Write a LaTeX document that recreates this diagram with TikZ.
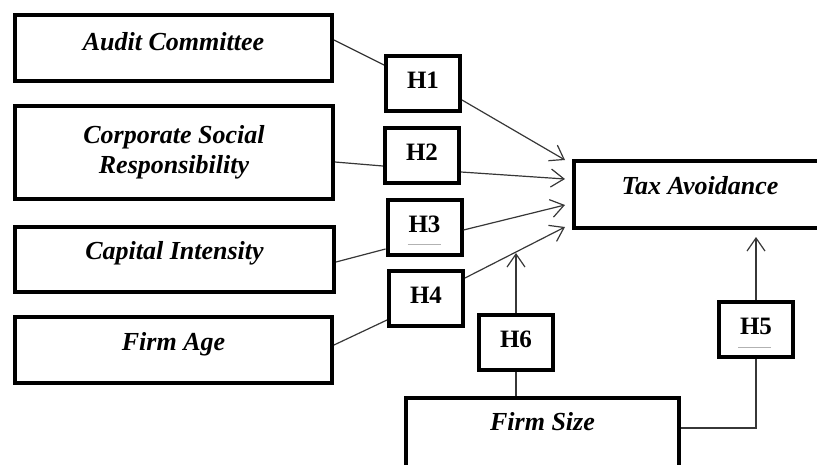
\documentclass[tikz,border=0pt]{standalone}
\usepackage{fontspec}
\setmainfont{Liberation Serif}
\usepackage{tikz}
\usetikzlibrary{positioning,arrows.meta,calc}
\definecolor{boxrule}{RGB}{0,0,0}
\definecolor{linkgray}{RGB}{55,55,55}
\tikzset{
  varbox/.style={rectangle,draw=boxrule,line width=4pt,align=center,font=\fontsize{26}{30}\selectfont\bfseries\itshape,text height=20pt,text depth=18pt,inner sep=0pt},
  hypbox/.style={rectangle,draw=boxrule,line width=4pt,minimum width=74pt,minimum height=55pt,font=\fontsize{25}{28}\selectfont\bfseries,text height=17pt,text depth=7pt,inner sep=0pt},
  link/.style={draw=linkgray,line width=1.2pt},
  arrowlink/.style={link,-{Straight Barb[length=13pt,width=18pt,line width=1.2pt]}},
  ghost/.style={draw=gray!60,line width=0.6pt}
}
\begin{document}
\begin{tikzpicture}[x=1pt,y=-1pt]
  \useasboundingbox (0,0) rectangle (817,464);
  \clip (0,0) rectangle (817,464);

  % independent variables
  \node[varbox,minimum width=317pt,minimum height=66pt,text depth=16pt] (audit) at (173.5,48) {Audit Committee};
  \node[varbox,minimum width=318pt,minimum height=93pt,text height=,text depth=] (csr) at (174,152) {Corporate Social\\Responsibility};
  \node[varbox,minimum width=319pt,minimum height=65pt,text depth=20pt] (capint) at (174.5,259.5) {Capital Intensity};
  \node[varbox,minimum width=317pt,minimum height=66pt,text depth=19pt] (age) at (173.5,350) {Firm Age};

  % dependent and control
  \node[varbox,minimum width=252pt,minimum height=67pt,text depth=20pt] (tax) at (700,194.5) {Tax Avoidance};
  \node[varbox,minimum width=273pt,minimum height=70pt,text depth=26pt] (size) at (542.5,433) {Firm Size};

  % hypotheses
  \node[hypbox] (h1) at (423,83) {H1};
  \node[hypbox] (h2) at (422,155.5) {H2};
  \node[hypbox] (h3) at (424.5,227) {H3};
  \node[hypbox] (h4) at (426,298) {H4};
  \node[hypbox] (h6) at (516,342) {H6};
  \node[hypbox] (h5) at (756,329.5) {H5};

  % arrow ends in front of tax avoidance
  \coordinate (t1) at (565,160);
  \coordinate (t2) at (565,179);
  \coordinate (t3) at (565,205);
  \coordinate (t4) at (565,227);
  \coordinate (t6) at (516,253);
  \coordinate (t5) at (756,237);

  \draw[link] ($(audit.east)+(0,-8)$) -- ($(h1.west)+(0,-18)$);
  \draw[arrowlink] ($(h1.east)+(0,17)$) -- (t1);
  \draw[link] ($(csr.east)+(0,10)$) -- ($(h2.west)+(0,10.5)$);
  \draw[arrowlink] ($(h2.east)+(0,16.5)$) -- (t2);
  \draw[link] ($(capint.east)+(0,2.5)$) -- ($(h3.west)+(0,22)$);
  \draw[arrowlink] ($(h3.east)+(0,3)$) -- (t3);
  \draw[link] ($(age.east)+(0,-5)$) -- ($(h4.west)+(0,22)$);
  \draw[arrowlink] ($(h4.east)+(0,-20)$) -- (t4);

  \draw[link] (size.north -| h6.south) -- (h6.south);
  \draw[arrowlink] (h6.north) -- (t6);
  \draw[link] ($(size.east)+(0,-5)$) -| (h5.south);
  \draw[arrowlink] (h5.north) -- (t5);

  % faint marks under H3 and H5
  \draw[ghost] ($(h3)+(-17,17)$) -- ($(h3)+(16,17)$);
  \draw[ghost] ($(h5)+(-18,17.5)$) -- ($(h5)+(15,17.5)$);
\end{tikzpicture}
\end{document}
